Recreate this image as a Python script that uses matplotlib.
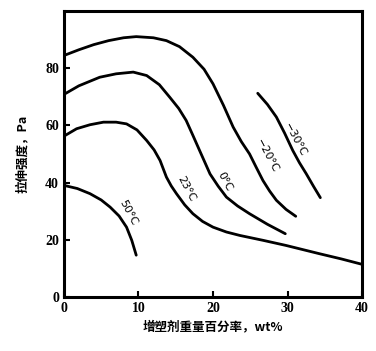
import matplotlib
matplotlib.use("Agg")
import matplotlib.pyplot as plt

plt.rcParams['font.family'] = ['Noto Sans CJK SC', 'DejaVu Sans']

# values (wt% plasticizer, tensile strength)
x_m20 = [0, 2, 4, 6, 8, 9.7, 12, 13.75, 15.5, 17.3, 18.8, 20, 21.4, 22.7, 23.8, 24.9, 25.8, 26.7, 27.6, 28.5, 29.8, 31.1]
y_m20 = [84.4, 86.4, 88.2, 89.6, 90.6, 91, 90.6, 89.6, 87.5, 83.8, 79.6, 74.5, 67, 59.4, 54.3, 50, 45.3, 40.7, 37, 33.8, 30.6, 28.2]

x_0 = [0, 2, 4.8, 7, 9.3, 11.1, 12.8, 14.2, 15.4, 16.4, 17.3, 18.2, 19.6, 20.7, 21.8, 23.3, 24.9, 27.3, 29.7]
y_0 = [70.8, 73.8, 76.8, 78, 78.6, 77.4, 74.2, 69.8, 65.9, 61.7, 56.5, 51.2, 43, 38.7, 34.9, 31.8, 29.1, 25.4, 22.1]

x_23 = [0, 1.7, 3.5, 5.3, 7, 8.4, 9.8, 11.1, 12.1, 12.9, 13.75, 14.4, 15.1, 16.2, 17.3, 18.6, 20, 21.8, 23.6, 26.7, 29.8, 34.3, 37.2, 40]
y_23 = [56.2, 58.8, 60.2, 61.1, 61.1, 60.5, 58.4, 54.7, 51.4, 47.7, 41.9, 38.8, 36.1, 32.2, 29.1, 26.4, 24.4, 22.7, 21.5, 19.8, 18, 15.1, 13.3, 11.4]

x_50 = [0, 1.8, 3.5, 5, 6.2, 7.4, 8.4, 9.1, 9.7]
y_50 = [39, 37.9, 36.1, 33.9, 31.4, 28.3, 24.4, 19.8, 14.6]

x_m30 = [26, 27.3, 28.5, 29.6, 30.7, 31.6, 32.5, 33.5, 34.4]
y_m30 = [71.2, 67.3, 62.9, 57.3, 51.2, 46.9, 43.1, 38.6, 34.7]

xticks = [0, 10, 20, 30, 40]
yticks = [0, 20, 40, 60, 80]

fig = plt.figure(figsize=(3.76, 3.51), dpi=100)
ax = fig.add_axes([0.170, 0.154, 0.793, 0.815])

for xs, ys in [(x_m20, y_m20), (x_0, y_0), (x_23, y_23), (x_50, y_50), (x_m30, y_m30)]:
    ax.plot(xs, ys, color='black', lw=2.0, solid_capstyle='round', solid_joinstyle='round')

# curve labels
lab_kw = dict(fontsize=8, ha='center', va='center', rotation=-62, family=['DejaVu Sans'])
ax.text(8.6, 29.5, '50°C', **lab_kw)
ax.text(16.4, 37.8, '23°C', **lab_kw)
ax.text(21.5, 40.5, '0°C', **lab_kw)
ax.text(27.2, 49.5, '−20°C', **lab_kw)
ax.text(31.0, 55.0, '−30°C', **lab_kw)

ax.set_xlim(0, 40)
ax.set_ylim(0, 100)
ax.set_xticks(xticks)
ax.set_yticks(yticks)
ax.tick_params(direction='in', length=4, width=1.5, labelsize=10)
for lab in ax.get_xticklabels() + ax.get_yticklabels():
    lab.set_fontweight('bold')
    lab.set_family(['Liberation Serif'])
for s in ax.spines.values():
    s.set_linewidth(2.2)

ax.set_xlabel('增塑剂重量百分率，wt%', fontsize=9, fontweight='bold', labelpad=4)
ax.set_ylabel('拉伸强度，Pa', fontsize=9, fontweight='bold', labelpad=12)

fig.savefig('out.png', dpi=100)
